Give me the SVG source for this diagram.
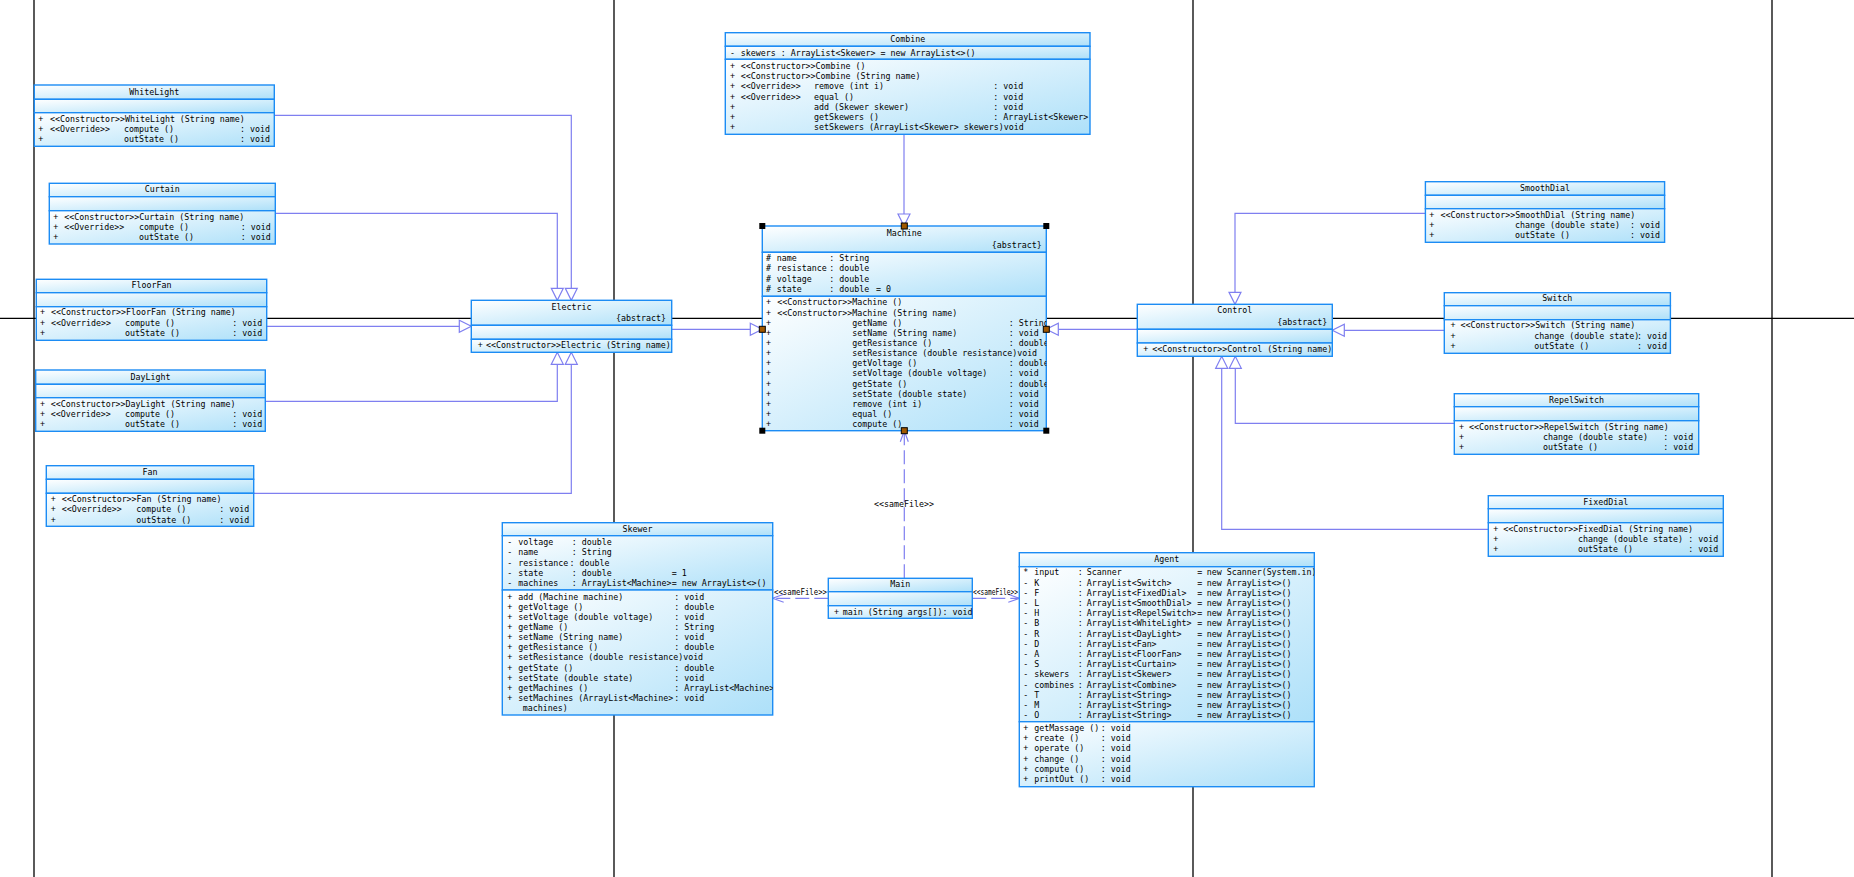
<svg xmlns="http://www.w3.org/2000/svg" width="1854" height="877" viewBox="0 0 1854 877">
<defs>
<linearGradient id="g" x1="0" y1="0" x2="1" y2="1">
<stop offset="0" stop-color="#ffffff"/>
<stop offset="1" stop-color="#ade0f9"/>
</linearGradient>
<marker id="gen" markerUnits="userSpaceOnUse" markerWidth="14" markerHeight="14" refX="12" refY="6" orient="auto" overflow="visible">
<path d="M0,0 L12,6 L0,12 Z" fill="#ffffff" stroke="#7f7ff0" stroke-width="1.2"/>
</marker>
<marker id="dep" markerUnits="userSpaceOnUse" markerWidth="14" markerHeight="14" refX="11" refY="4" orient="auto" overflow="visible">
<path d="M0,0 L11,4 L0,8" fill="none" stroke="#7f7ff0" stroke-width="1.2"/>
</marker>
<clipPath id="clipM"><rect x="762.3" y="226" width="284" height="204.7"/></clipPath>
<clipPath id="clipS"><rect x="502.3" y="522.7" width="270.4" height="192.3"/></clipPath>
<clipPath id="clipA"><rect x="1019.3" y="552.7" width="295" height="234"/></clipPath>
<style>
.c{fill:url(#g);stroke:#1c8cf4;stroke-width:1.4}
.t{font-family:"DejaVu Sans Mono","Liberation Mono",monospace;font-size:8.3px;fill:#000}
.m{text-anchor:middle}
.e{text-anchor:end}
.k{stroke:#000;stroke-width:1.3}
.cn{fill:none;stroke:#7f7ff0;stroke-width:1.2}
.g{marker-end:url(#gen)}
.dp{stroke-dasharray:14 5;marker-end:url(#dep)}
.h{fill:#000}
.hm{fill:#a05800;stroke:#000;stroke-width:1}
</style>
</defs>
<rect x="0" y="0" width="1854" height="877" fill="#ffffff"/>
<g id="frame">
<line class="k" x1="34" y1="0" x2="34" y2="877"/>
<line class="k" x1="614" y1="0" x2="614" y2="877"/>
<line class="k" x1="1193" y1="0" x2="1193" y2="877"/>
<line class="k" x1="1772" y1="0" x2="1772" y2="877"/>
<line class="k" x1="0" y1="318.3" x2="1854" y2="318.3"/>
</g>
<g id="connectors">
<path class="cn g" d="M274.3,115.3 H571.3 V300.3"/>
<path class="cn g" d="M275.3,213.3 H557.3 V300.3"/>
<path class="cn g" d="M266.7,326.3 H471.3"/>
<path class="cn g" d="M265.3,401.3 H557.3 V352.3"/>
<path class="cn g" d="M253.7,493.3 H571.3 V352.3"/>
<path class="cn g" d="M671.7,329.3 H762.3"/>
<path class="cn g" d="M904,134.3 V226"/>
<path class="cn g" d="M1137.3,329.3 H1046.3"/>
<path class="cn g" d="M1425.4,213.3 H1235 V304.3"/>
<path class="cn g" d="M1444.3,330.3 H1332.3"/>
<path class="cn g" d="M1454.3,423.3 H1235.3 V356.3"/>
<path class="cn g" d="M1488.3,529.3 H1221.7 V356.3"/>
<path class="cn dp" d="M904.3,578.3 V430.7"/>
<path class="cn dp" d="M828.3,598.3 H772.7"/>
<path class="cn dp" d="M972.3,598.3 H1019.3"/>
<text class="t m" x="904" y="507">&lt;&lt;sameFile&gt;&gt;</text>
<text class="t" x="774" y="595.3" textLength="53" lengthAdjust="spacingAndGlyphs">&lt;&lt;sameFile&gt;&gt;</text>
<text class="t" x="973" y="595.3" textLength="45" lengthAdjust="spacingAndGlyphs">&lt;&lt;sameFile&gt;&gt;</text>
</g>
<g id="WhiteLight">
<rect class="c" x="34.3" y="85" width="240" height="14.3"/>
<rect class="c" x="34.3" y="99.3" width="240" height="13.4"/>
<rect class="c" x="34.3" y="112.7" width="240" height="33.6"/>
<text class="t m" x="154.3" y="95.3">WhiteLight</text>
<text class="t" y="122.3"><tspan x="38.3">+</tspan><tspan x="50">&lt;&lt;Constructor&gt;&gt;WhiteLight (String name)</tspan></text>
<text class="t" y="132.3"><tspan x="38.3">+</tspan><tspan x="50">&lt;&lt;Override&gt;&gt;</tspan><tspan x="124">compute ()</tspan><tspan x="240">: void</tspan></text>
<text class="t" y="142.3"><tspan x="38.3">+</tspan><tspan x="124">outState ()</tspan><tspan x="240">: void</tspan></text>
</g>
<g id="Curtain">
<rect class="c" x="49.3" y="183.3" width="226" height="13.4"/>
<rect class="c" x="49.3" y="196.7" width="226" height="14"/>
<rect class="c" x="49.3" y="210.7" width="226" height="33.3"/>
<text class="t m" x="162.3" y="192">Curtain</text>
<text class="t" y="220"><tspan x="53.3">+</tspan><tspan x="64.3">&lt;&lt;Constructor&gt;&gt;Curtain (String name)</tspan></text>
<text class="t" y="230"><tspan x="53.3">+</tspan><tspan x="64.3">&lt;&lt;Override&gt;&gt;</tspan><tspan x="139">compute ()</tspan><tspan x="240.7">: void</tspan></text>
<text class="t" y="240"><tspan x="53.3">+</tspan><tspan x="139">outState ()</tspan><tspan x="240.7">: void</tspan></text>
</g>
<g id="FloorFan">
<rect class="c" x="36.3" y="279.3" width="230.4" height="13.4"/>
<rect class="c" x="36.3" y="292.7" width="230.4" height="14"/>
<rect class="c" x="36.3" y="306.7" width="230.4" height="33.6"/>
<text class="t m" x="151.5" y="288.3">FloorFan</text>
<text class="t" y="315.3"><tspan x="40">+</tspan><tspan x="51">&lt;&lt;Constructor&gt;&gt;FloorFan (String name)</tspan></text>
<text class="t" y="326.3"><tspan x="40">+</tspan><tspan x="51">&lt;&lt;Override&gt;&gt;</tspan><tspan x="125">compute ()</tspan><tspan x="232.3">: void</tspan></text>
<text class="t" y="336.3"><tspan x="40">+</tspan><tspan x="125">outState ()</tspan><tspan x="232.3">: void</tspan></text>
</g>
<g id="DayLight">
<rect class="c" x="35.7" y="370" width="229.6" height="14.3"/>
<rect class="c" x="35.7" y="384.3" width="229.6" height="13.4"/>
<rect class="c" x="35.7" y="397.7" width="229.6" height="33.6"/>
<text class="t m" x="150.5" y="380.3">DayLight</text>
<text class="t" y="407.3"><tspan x="40">+</tspan><tspan x="50.7">&lt;&lt;Constructor&gt;&gt;DayLight (String name)</tspan></text>
<text class="t" y="417.3"><tspan x="40">+</tspan><tspan x="50.7">&lt;&lt;Override&gt;&gt;</tspan><tspan x="125">compute ()</tspan><tspan x="232.3">: void</tspan></text>
<text class="t" y="427.3"><tspan x="40">+</tspan><tspan x="125">outState ()</tspan><tspan x="232.3">: void</tspan></text>
</g>
<g id="Fan">
<rect class="c" x="46.3" y="465.7" width="207.4" height="13.6"/>
<rect class="c" x="46.3" y="479.3" width="207.4" height="14"/>
<rect class="c" x="46.3" y="493.3" width="207.4" height="33"/>
<text class="t m" x="150" y="475">Fan</text>
<text class="t" y="502.3"><tspan x="50.7">+</tspan><tspan x="61.7">&lt;&lt;Constructor&gt;&gt;Fan (String name)</tspan></text>
<text class="t" y="512.3"><tspan x="50.7">+</tspan><tspan x="61.7">&lt;&lt;Override&gt;&gt;</tspan><tspan x="136.3">compute ()</tspan><tspan x="219.3">: void</tspan></text>
<text class="t" y="523"><tspan x="50.7">+</tspan><tspan x="136.3">outState ()</tspan><tspan x="219.3">: void</tspan></text>
</g>
<g id="Electric">
<rect class="c" x="471.3" y="300.3" width="200.4" height="25"/>
<rect class="c" x="471.3" y="325.3" width="200.4" height="14"/>
<rect class="c" x="471.3" y="339.3" width="200.4" height="13"/>
<text class="t m" x="571.5" y="310">Electric</text>
<text class="t e" x="666" y="321">{abstract}</text>
<text class="t" y="348.3"><tspan x="477.7">+</tspan><tspan x="486">&lt;&lt;Constructor&gt;&gt;Electric (String name)</tspan></text>
</g>
<g id="Combine">
<rect class="c" x="725.3" y="32.7" width="364.7" height="13.6"/>
<rect class="c" x="725.3" y="46.3" width="364.7" height="13"/>
<rect class="c" x="725.3" y="59.3" width="364.7" height="75"/>
<text class="t m" x="907.7" y="42">Combine</text>
<text class="t" y="56.3"><tspan x="730">-</tspan><tspan x="740.7">skewers : ArrayList&lt;Skewer&gt; = new ArrayList&lt;&gt;()</tspan></text>
<text class="t" y="68.7"><tspan x="730">+</tspan><tspan x="740.7">&lt;&lt;Constructor&gt;&gt;Combine ()</tspan></text>
<text class="t" y="79.3"><tspan x="730">+</tspan><tspan x="740.7">&lt;&lt;Constructor&gt;&gt;Combine (String name)</tspan></text>
<text class="t" y="89.3"><tspan x="730">+</tspan><tspan x="740.7">&lt;&lt;Override&gt;&gt;</tspan><tspan x="814">remove (int i)</tspan><tspan x="993.3">: void</tspan></text>
<text class="t" y="100.3"><tspan x="730">+</tspan><tspan x="740.7">&lt;&lt;Override&gt;&gt;</tspan><tspan x="814">equal ()</tspan><tspan x="993.3">: void</tspan></text>
<text class="t" y="110.3"><tspan x="730">+</tspan><tspan x="814">add (Skewer skewer)</tspan><tspan x="993.3">: void</tspan></text>
<text class="t" y="120.3"><tspan x="730">+</tspan><tspan x="814">getSkewers ()</tspan><tspan x="993.3">: ArrayList&lt;Skewer&gt;</tspan></text>
<text class="t" y="130.3"><tspan x="730">+</tspan><tspan x="814">setSkewers (ArrayList&lt;Skewer&gt; skewers)void</tspan></text>
</g>
<g id="Machine">
<rect class="c" x="762.3" y="226" width="284" height="26.3"/>
<rect class="c" x="762.3" y="252.3" width="284" height="44"/>
<rect class="c" x="762.3" y="296.3" width="284" height="134.4"/>
<text class="t m" x="904.3" y="236.3">Machine</text>
<text class="t e" x="1041.7" y="248">{abstract}</text>
<g clip-path="url(#clipM)">
<text class="t" y="261.3"><tspan x="766">#</tspan><tspan x="776.7">name</tspan><tspan x="829.3">: String</tspan></text>
<text class="t" y="271.3"><tspan x="766">#</tspan><tspan x="776.7">resistance</tspan><tspan x="829.3">: double</tspan></text>
<text class="t" y="282.3"><tspan x="766">#</tspan><tspan x="776.7">voltage</tspan><tspan x="829.3">: double</tspan></text>
<text class="t" y="292.3"><tspan x="766">#</tspan><tspan x="776.7">state</tspan><tspan x="829.3">: double</tspan><tspan x="876">= 0</tspan></text>
<text class="t" y="305.3"><tspan x="766">+</tspan><tspan x="777.3">&lt;&lt;Constructor&gt;&gt;Machine ()</tspan></text>
<text class="t" y="316.3"><tspan x="766">+</tspan><tspan x="777.3">&lt;&lt;Constructor&gt;&gt;Machine (String name)</tspan></text>
<text class="t" y="326.3"><tspan x="766">+</tspan><tspan x="852.3">getName ()</tspan><tspan x="1008.7">: String</tspan></text>
<text class="t" y="336.3"><tspan x="766">+</tspan><tspan x="852.3">setName (String name)</tspan><tspan x="1008.7">: void</tspan></text>
<text class="t" y="346.3"><tspan x="766">+</tspan><tspan x="852.3">getResistance ()</tspan><tspan x="1008.7">: double</tspan></text>
<text class="t" y="356.3"><tspan x="766">+</tspan><tspan x="852.3">setResistance (double resistance)void</tspan></text>
<text class="t" y="366.3"><tspan x="766">+</tspan><tspan x="852.3">getVoltage ()</tspan><tspan x="1008.7">: double</tspan></text>
<text class="t" y="376.3"><tspan x="766">+</tspan><tspan x="852.3">setVoltage (double voltage)</tspan><tspan x="1008.7">: void</tspan></text>
<text class="t" y="387.3"><tspan x="766">+</tspan><tspan x="852.3">getState ()</tspan><tspan x="1008.7">: double</tspan></text>
<text class="t" y="397.3"><tspan x="766">+</tspan><tspan x="852.3">setState (double state)</tspan><tspan x="1008.7">: void</tspan></text>
<text class="t" y="407.3"><tspan x="766">+</tspan><tspan x="852.3">remove (int i)</tspan><tspan x="1008.7">: void</tspan></text>
<text class="t" y="417.3"><tspan x="766">+</tspan><tspan x="852.3">equal ()</tspan><tspan x="1008.7">: void</tspan></text>
<text class="t" y="427.3"><tspan x="766">+</tspan><tspan x="852.3">compute ()</tspan><tspan x="1008.7">: void</tspan></text>
</g>
<rect class="h" x="759.3" y="223" width="6" height="6"/>
<rect class="h" x="1043.3" y="223" width="6" height="6"/>
<rect class="h" x="759.3" y="427.7" width="6" height="6"/>
<rect class="h" x="1043.3" y="427.7" width="6" height="6"/>
<rect class="hm" x="901.3" y="223" width="6" height="6"/>
<rect class="hm" x="901.3" y="427.7" width="6" height="6"/>
<rect class="hm" x="759.3" y="326.3" width="6" height="6"/>
<rect class="hm" x="1043.3" y="326.3" width="6" height="6"/>
</g>
<g id="Control">
<rect class="c" x="1137.3" y="304.3" width="195" height="25"/>
<rect class="c" x="1137.3" y="329.3" width="195" height="13.7"/>
<rect class="c" x="1137.3" y="343" width="195" height="13.3"/>
<text class="t m" x="1234.8" y="313">Control</text>
<text class="t e" x="1327.3" y="325.3">{abstract}</text>
<text class="t" y="352.3"><tspan x="1143.3">+</tspan><tspan x="1152.3">&lt;&lt;Constructor&gt;&gt;Control (String name)</tspan></text>
</g>
<g id="SmoothDial">
<rect class="c" x="1425.4" y="181.7" width="239.2" height="13.6"/>
<rect class="c" x="1425.4" y="195.3" width="239.2" height="13.4"/>
<rect class="c" x="1425.4" y="208.7" width="239.2" height="33.6"/>
<text class="t m" x="1545" y="191">SmoothDial</text>
<text class="t" y="218"><tspan x="1429.3">+</tspan><tspan x="1440.4">&lt;&lt;Constructor&gt;&gt;SmoothDial (String name)</tspan></text>
<text class="t" y="228"><tspan x="1429.3">+</tspan><tspan x="1515">change (double state)</tspan><tspan x="1630">: void</tspan></text>
<text class="t" y="238"><tspan x="1429.3">+</tspan><tspan x="1515">outState ()</tspan><tspan x="1630">: void</tspan></text>
</g>
<g id="Switch">
<rect class="c" x="1444.3" y="292.7" width="226.1" height="13"/>
<rect class="c" x="1444.3" y="305.7" width="226.1" height="14"/>
<rect class="c" x="1444.3" y="319.7" width="226.1" height="33.6"/>
<text class="t m" x="1557.3" y="301">Switch</text>
<text class="t" y="328.3"><tspan x="1450.4">+</tspan><tspan x="1460.4">&lt;&lt;Constructor&gt;&gt;Switch (String name)</tspan></text>
<text class="t" y="339"><tspan x="1450.4">+</tspan><tspan x="1534.3">change (double state)</tspan><tspan x="1637">: void</tspan></text>
<text class="t" y="349"><tspan x="1450.4">+</tspan><tspan x="1534.3">outState ()</tspan><tspan x="1637">: void</tspan></text>
</g>
<g id="RepelSwitch">
<rect class="c" x="1454.3" y="393.7" width="244.4" height="13"/>
<rect class="c" x="1454.3" y="406.7" width="244.4" height="14"/>
<rect class="c" x="1454.3" y="420.7" width="244.4" height="33.6"/>
<text class="t m" x="1576.5" y="403">RepelSwitch</text>
<text class="t" y="430.3"><tspan x="1459">+</tspan><tspan x="1469">&lt;&lt;Constructor&gt;&gt;RepelSwitch (String name)</tspan></text>
<text class="t" y="440.3"><tspan x="1459">+</tspan><tspan x="1543">change (double state)</tspan><tspan x="1663.3">: void</tspan></text>
<text class="t" y="450.3"><tspan x="1459">+</tspan><tspan x="1543">outState ()</tspan><tspan x="1663.3">: void</tspan></text>
</g>
<g id="FixedDial">
<rect class="c" x="1488.3" y="495.7" width="235" height="13"/>
<rect class="c" x="1488.3" y="508.7" width="235" height="14"/>
<rect class="c" x="1488.3" y="522.7" width="235" height="33.6"/>
<text class="t m" x="1605.8" y="505">FixedDial</text>
<text class="t" y="532"><tspan x="1493.3">+</tspan><tspan x="1503.3">&lt;&lt;Constructor&gt;&gt;FixedDial (String name)</tspan></text>
<text class="t" y="542"><tspan x="1493.3">+</tspan><tspan x="1578">change (double state)</tspan><tspan x="1688.3">: void</tspan></text>
<text class="t" y="552"><tspan x="1493.3">+</tspan><tspan x="1578">outState ()</tspan><tspan x="1688.3">: void</tspan></text>
</g>
<g id="Skewer">
<rect class="c" x="502.3" y="522.7" width="270.4" height="13"/>
<rect class="c" x="502.3" y="535.7" width="270.4" height="54.3"/>
<rect class="c" x="502.3" y="590" width="270.4" height="125"/>
<text class="t m" x="637.5" y="532">Skewer</text>
<g clip-path="url(#clipS)">
<text class="t" y="545.3"><tspan x="507.3">-</tspan><tspan x="518.3">voltage</tspan><tspan x="571.7">: double</tspan></text>
<text class="t" y="555.3"><tspan x="507.3">-</tspan><tspan x="518.3">name</tspan><tspan x="571.7">: String</tspan></text>
<text class="t" y="566"><tspan x="507.3">-</tspan><tspan x="518.3">resistance</tspan><tspan x="569.5">: double</tspan></text>
<text class="t" y="576.3"><tspan x="507.3">-</tspan><tspan x="518.3">state</tspan><tspan x="571.7">: double</tspan><tspan x="671.7">= 1</tspan></text>
<text class="t" y="586.3"><tspan x="507.3">-</tspan><tspan x="518.3">machines</tspan><tspan x="571.7">: ArrayList&lt;Machine&gt;</tspan><tspan x="671.7">= new ArrayList&lt;&gt;()</tspan></text>
<text class="t" y="599.7"><tspan x="507.3">+</tspan><tspan x="518.3">add (Machine machine)</tspan><tspan x="674.3">: void</tspan></text>
<text class="t" y="610.3"><tspan x="507.3">+</tspan><tspan x="518.3">getVoltage ()</tspan><tspan x="674.3">: double</tspan></text>
<text class="t" y="620.3"><tspan x="507.3">+</tspan><tspan x="518.3">setVoltage (double voltage)</tspan><tspan x="674.3">: void</tspan></text>
<text class="t" y="630.3"><tspan x="507.3">+</tspan><tspan x="518.3">getName ()</tspan><tspan x="674.3">: String</tspan></text>
<text class="t" y="640.3"><tspan x="507.3">+</tspan><tspan x="518.3">setName (String name)</tspan><tspan x="674.3">: void</tspan></text>
<text class="t" y="650.3"><tspan x="507.3">+</tspan><tspan x="518.3">getResistance ()</tspan><tspan x="674.3">: double</tspan></text>
<text class="t" y="660.3"><tspan x="507.3">+</tspan><tspan x="518.3">setResistance (double resistance)void</tspan></text>
<text class="t" y="671.3"><tspan x="507.3">+</tspan><tspan x="518.3">getState ()</tspan><tspan x="674.3">: double</tspan></text>
<text class="t" y="681.3"><tspan x="507.3">+</tspan><tspan x="518.3">setState (double state)</tspan><tspan x="674.3">: void</tspan></text>
<text class="t" y="691.3"><tspan x="507.3">+</tspan><tspan x="518.3">getMachines ()</tspan><tspan x="674.3">: ArrayList&lt;Machine&gt;</tspan></text>
<text class="t" y="701.3"><tspan x="507.3">+</tspan><tspan x="518.3">setMachines (ArrayList&lt;Machine&gt;</tspan><tspan x="674.3">: void</tspan></text>
<text class="t" x="522.7" y="710.7">machines)</text>
</g>
</g>
<g id="Main">
<rect class="c" x="828.3" y="578.3" width="144" height="13.4"/>
<rect class="c" x="828.3" y="591.7" width="144" height="14"/>
<rect class="c" x="828.3" y="605.7" width="144" height="12.6"/>
<text class="t m" x="900.3" y="587.3">Main</text>
<text class="t" y="614.7"><tspan x="834">+</tspan><tspan x="842.7">main (String args[]): void</tspan></text>
</g>
<g id="Agent">
<rect class="c" x="1019.3" y="552.7" width="295" height="14"/>
<rect class="c" x="1019.3" y="566.7" width="295" height="155"/>
<rect class="c" x="1019.3" y="721.7" width="295" height="65"/>
<text class="t m" x="1166.8" y="562">Agent</text>
<g clip-path="url(#clipA)">
<text class="t" y="575.3"><tspan x="1023.3">*</tspan><tspan x="1034.3">input</tspan><tspan x="1077.7">:</tspan><tspan x="1086.7">Scanner</tspan><tspan x="1197.3">=</tspan><tspan x="1206.7">new Scanner(System.in)</tspan></text>
<text class="t" y="585.5"><tspan x="1023.3">-</tspan><tspan x="1034.3">K</tspan><tspan x="1077.7">:</tspan><tspan x="1086.7">ArrayList&lt;Switch&gt;</tspan><tspan x="1197.3">=</tspan><tspan x="1206.7">new ArrayList&lt;&gt;()</tspan></text>
<text class="t" y="595.7"><tspan x="1023.3">-</tspan><tspan x="1034.3">F</tspan><tspan x="1077.7">:</tspan><tspan x="1086.7">ArrayList&lt;FixedDial&gt;</tspan><tspan x="1197.3">=</tspan><tspan x="1206.7">new ArrayList&lt;&gt;()</tspan></text>
<text class="t" y="605.9"><tspan x="1023.3">-</tspan><tspan x="1034.3">L</tspan><tspan x="1077.7">:</tspan><tspan x="1086.7">ArrayList&lt;SmoothDial&gt;</tspan><tspan x="1197.3">=</tspan><tspan x="1206.7">new ArrayList&lt;&gt;()</tspan></text>
<text class="t" y="616.1"><tspan x="1023.3">-</tspan><tspan x="1034.3">H</tspan><tspan x="1077.7">:</tspan><tspan x="1086.7">ArrayList&lt;RepelSwitch&gt;</tspan><tspan x="1197.3">=</tspan><tspan x="1206.7">new ArrayList&lt;&gt;()</tspan></text>
<text class="t" y="626.3"><tspan x="1023.3">-</tspan><tspan x="1034.3">B</tspan><tspan x="1077.7">:</tspan><tspan x="1086.7">ArrayList&lt;WhiteLight&gt;</tspan><tspan x="1197.3">=</tspan><tspan x="1206.7">new ArrayList&lt;&gt;()</tspan></text>
<text class="t" y="636.5"><tspan x="1023.3">-</tspan><tspan x="1034.3">R</tspan><tspan x="1077.7">:</tspan><tspan x="1086.7">ArrayList&lt;DayLight&gt;</tspan><tspan x="1197.3">=</tspan><tspan x="1206.7">new ArrayList&lt;&gt;()</tspan></text>
<text class="t" y="646.7"><tspan x="1023.3">-</tspan><tspan x="1034.3">D</tspan><tspan x="1077.7">:</tspan><tspan x="1086.7">ArrayList&lt;Fan&gt;</tspan><tspan x="1197.3">=</tspan><tspan x="1206.7">new ArrayList&lt;&gt;()</tspan></text>
<text class="t" y="656.9"><tspan x="1023.3">-</tspan><tspan x="1034.3">A</tspan><tspan x="1077.7">:</tspan><tspan x="1086.7">ArrayList&lt;FloorFan&gt;</tspan><tspan x="1197.3">=</tspan><tspan x="1206.7">new ArrayList&lt;&gt;()</tspan></text>
<text class="t" y="667.1"><tspan x="1023.3">-</tspan><tspan x="1034.3">S</tspan><tspan x="1077.7">:</tspan><tspan x="1086.7">ArrayList&lt;Curtain&gt;</tspan><tspan x="1197.3">=</tspan><tspan x="1206.7">new ArrayList&lt;&gt;()</tspan></text>
<text class="t" y="677.3"><tspan x="1023.3">-</tspan><tspan x="1034.3">skewers</tspan><tspan x="1077.7">:</tspan><tspan x="1086.7">ArrayList&lt;Skewer&gt;</tspan><tspan x="1197.3">=</tspan><tspan x="1206.7">new ArrayList&lt;&gt;()</tspan></text>
<text class="t" y="687.5"><tspan x="1023.3">-</tspan><tspan x="1034.3">combines</tspan><tspan x="1077.7">:</tspan><tspan x="1086.7">ArrayList&lt;Combine&gt;</tspan><tspan x="1197.3">=</tspan><tspan x="1206.7">new ArrayList&lt;&gt;()</tspan></text>
<text class="t" y="697.7"><tspan x="1023.3">-</tspan><tspan x="1034.3">T</tspan><tspan x="1077.7">:</tspan><tspan x="1086.7">ArrayList&lt;String&gt;</tspan><tspan x="1197.3">=</tspan><tspan x="1206.7">new ArrayList&lt;&gt;()</tspan></text>
<text class="t" y="707.9"><tspan x="1023.3">-</tspan><tspan x="1034.3">M</tspan><tspan x="1077.7">:</tspan><tspan x="1086.7">ArrayList&lt;String&gt;</tspan><tspan x="1197.3">=</tspan><tspan x="1206.7">new ArrayList&lt;&gt;()</tspan></text>
<text class="t" y="718.1"><tspan x="1023.3">-</tspan><tspan x="1034.3">O</tspan><tspan x="1077.7">:</tspan><tspan x="1086.7">ArrayList&lt;String&gt;</tspan><tspan x="1197.3">=</tspan><tspan x="1206.7">new ArrayList&lt;&gt;()</tspan></text>
<text class="t" y="731.3"><tspan x="1023.3">+</tspan><tspan x="1034.3">getMassage ()</tspan><tspan x="1100.7">: void</tspan></text>
<text class="t" y="741.3"><tspan x="1023.3">+</tspan><tspan x="1034.3">create ()</tspan><tspan x="1100.7">: void</tspan></text>
<text class="t" y="751.3"><tspan x="1023.3">+</tspan><tspan x="1034.3">operate ()</tspan><tspan x="1100.7">: void</tspan></text>
<text class="t" y="762.3"><tspan x="1023.3">+</tspan><tspan x="1034.3">change ()</tspan><tspan x="1100.7">: void</tspan></text>
<text class="t" y="772.3"><tspan x="1023.3">+</tspan><tspan x="1034.3">compute ()</tspan><tspan x="1100.7">: void</tspan></text>
<text class="t" y="782.3"><tspan x="1023.3">+</tspan><tspan x="1034.3">printOut ()</tspan><tspan x="1100.7">: void</tspan></text>
</g>
</g>
</svg>
